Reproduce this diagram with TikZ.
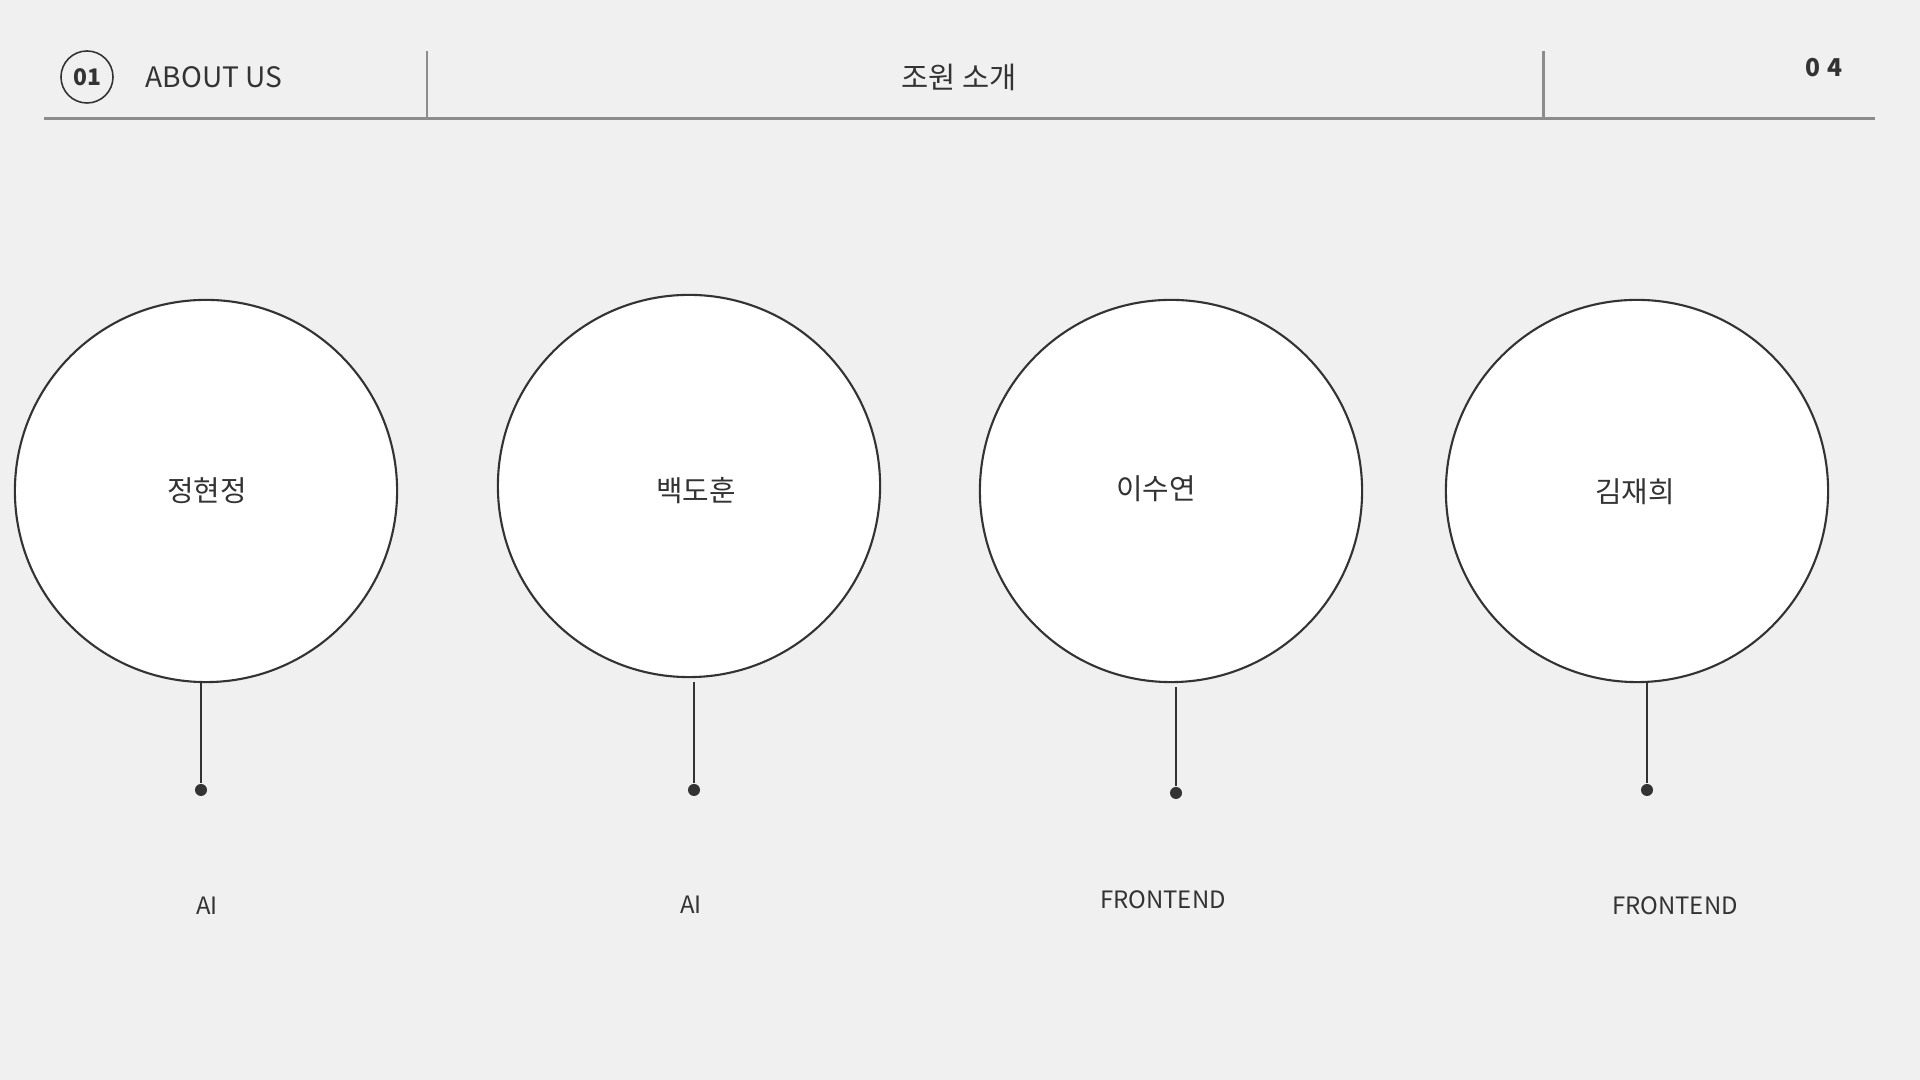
\documentclass[tikz,border=0pt]{standalone}
\usepackage{fontspec}
\setmainfont{Noto Sans CJK KR}
\usetikzlibrary{arrows, calc}
\definecolor{bgcol}{HTML}{F0F0F0}
\definecolor{rulecol}{HTML}{8C8C8C}
\definecolor{inkcol}{HTML}{333333}
\tikzset{
  member/.style={circle, draw=inkcol, fill=white, line width=0.6pt, minimum size=3.82cm, inner sep=0pt},
  person/.style={text=inkcol, font=\fontsize{8.2}{10}\selectfont},
  pin/.style={circle, fill=inkcol, minimum size=0.12cm, inner sep=0pt},
  role/.style={text=inkcol, font=\fontsize{6.8}{9}\selectfont},
  stem/.style={draw=inkcol, line width=0.55pt},
  rule/.style={draw=rulecol, line width=0.85pt}
}

\begin{document}
\begin{tikzpicture}[x=0.01cm, y=-0.01cm]
    \fill[bgcol] (0,0) rectangle (1920,1080);
    \node[circle, draw=inkcol, line width=0.45pt, minimum size=0.52cm, inner sep=0pt, text=inkcol, font=\fontsize{6.5}{8}\selectfont\bfseries] (num) at (87,77) {01};
    \node[anchor=west, inner sep=0pt, text=inkcol, font=\fontsize{8}{10}\selectfont] (about) at (145,77) {ABOUT US};
    \node[text=inkcol, font=\fontsize{8.4}{10}\selectfont] (title) at (959,77) {조원 소개};
    \node[text=inkcol, font=\fontsize{7}{9}\selectfont\bfseries] (page) at (1824,68) {0\hspace{2.2pt}4};
    \coordinate (hl) at (44,119);
    \coordinate (hr) at (1875,119);
    \coordinate (s1) at (427,51);
    \coordinate (s2) at (1543,51);
    \draw[rule] (hl) -- (hr);
    \draw[rule] (s1) -- (s1 |- hl);
    \draw[rule] (s2) -- (s2 |- hl);
    \node[member] (m1) at (206,491) {};
    \node[member] (m2) at (689,486) {};
    \node[member] (m3) at (1171,491) {};
    \node[member] (m4) at (1637,491) {};
    \node[person] (n1) at (207,491) {정현정};
    \node[person] (n2) at (696,491) {백도훈};
    \node[person] (n3) at (1156,489) {이수연};
    \node[person] (n4) at (1635,492) {김재희};
    \coordinate (t1) at (201,682);
    \coordinate (t2) at (694,682);
    \coordinate (t3) at (1176,687);
    \coordinate (t4) at (1647,682);
    \node[pin] (p1) at (201,790) {};
    \node[pin] (p2) at (694,790) {};
    \node[pin] (p3) at (1176,793) {};
    \node[pin] (p4) at (1647,790) {};
    \draw[stem] (t1) -- (p1);
    \draw[stem] (t2) -- (p2);
    \draw[stem] (t3) -- (p3);
    \draw[stem] (t4) -- (p4);
    \node[role] (r1) at (207,906) {AI};
    \node[role] (r2) at (691,905) {AI};
    \node[role] (r3) at (1163,900) {FRONTEND};
    \node[role] (r4) at (1675,906) {FRONTEND};
\end{tikzpicture}
\end{document}
